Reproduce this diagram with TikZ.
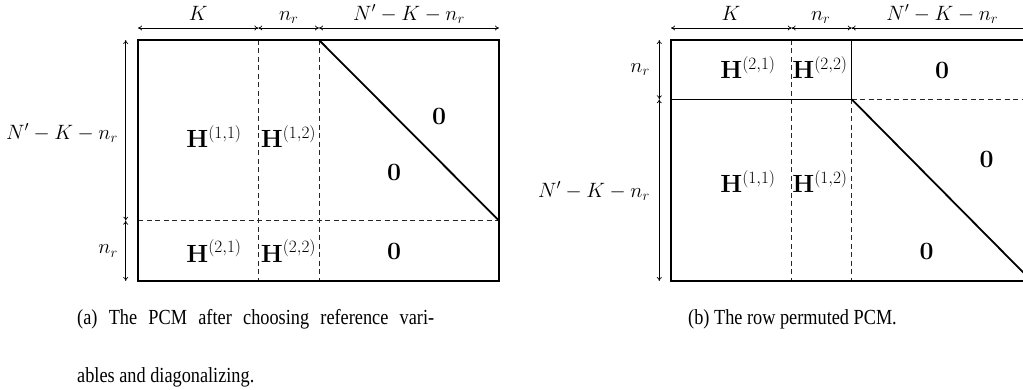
\documentclass[tikz,border=0pt]{standalone}
\usepackage[no-math]{fontspec}
\setmainfont{Liberation Serif}
\usepackage{graphicx}
\usetikzlibrary{arrows.meta}
\begin{document}
\begin{tikzpicture}[x=1pt,y=-1pt,
  frame/.style={line width=1.1pt},
  divider/.style={line width=0.8pt, dash pattern=on 5pt off 3.5pt, black!85},
  diag/.style={line width=1.8pt},
  dimarrow/.style={{To[length=4pt,width=5pt]}-{To[length=4pt,width=5pt]}, line width=0.7pt},
  dimlabel/.style={font=\fontsize{20.5}{24}\selectfont, inner sep=0pt},
  blocklabel/.style={font=\fontsize{25.5}{30}\selectfont, inner sep=0pt, anchor=base},
  captext/.style={font=\fontsize{21.5}{58}\selectfont, inner sep=0pt, anchor=base west}]
\useasboundingbox (0,0) rectangle (1023,390);

% ---------- (a) ----------
\coordinate (aTL) at (138,40);
\coordinate (aBR) at (499,281);
\coordinate (a1t) at (258.3,40);  \coordinate (a1b) at (258.3,281);
\coordinate (a2t) at (319,40);    \coordinate (a2b) at (319,281);
\coordinate (aml) at (138,220.7); \coordinate (amr) at (499,220.7);
\draw[divider] (a1t) -- (a1b);
\draw[divider] (a2t) -- (a2b);
\draw[divider] (aml) -- (amr);
\draw[frame] (aTL) rectangle (aBR);
\draw[diag] (a2t) -- (amr);

\coordinate (ad0) at (138,28);   \coordinate (ad1) at (258.3,28);
\coordinate (ad2) at (319,28);   \coordinate (ad3) at (499,28);
\draw[dimarrow] (ad0) -- (ad1);
\draw[dimarrow] (ad1) -- (ad2);
\draw[dimarrow] (ad2) -- (ad3);
\coordinate (al0) at (125.7,40); \coordinate (al1) at (125.7,220.7);
\coordinate (al2) at (125.7,281);
\draw[dimarrow] (al0) -- (al1);
\draw[dimarrow] (al1) -- (al2);

\node[dimlabel, anchor=base] (aK) at (198.2,20.5) {$K$};
\node[dimlabel, anchor=base] (anr) at (288.7,20.5) {$n_r$};
\node[dimlabel, anchor=base] (aN) at (409,20.5) {$N'-K-n_r$};
\node[dimlabel, anchor=east] (aNl) at (118,133) {$N'-K-n_r$};
\node[dimlabel, anchor=east] (anrl) at (118,251) {$n_r$};

\node[blocklabel] (aH11) at (214,148) {$\mathbf{H}^{(1,1)}$};
\node[blocklabel] (aH12) at (288.5,148) {$\mathbf{H}^{(1,2)}$};
\node[blocklabel] (aH21) at (214,262) {$\mathbf{H}^{(2,1)}$};
\node[blocklabel] (aH22) at (288.5,262) {$\mathbf{H}^{(2,2)}$};
\node[blocklabel] (aZ1) at (439,124.5) {$\mathbf{0}$};
\node[blocklabel] (aZ2) at (394,180.5) {$\mathbf{0}$};
\node[blocklabel] (aZ3) at (394,260) {$\mathbf{0}$};

% ---------- (b) ----------
\coordinate (bTL) at (671,40);
\coordinate (bBR) at (1031.7,281);
\coordinate (b1t) at (791.7,40);  \coordinate (b1b) at (791.7,281);
\coordinate (b2t) at (851.7,40);  \coordinate (b2m) at (851.7,99.3);
\coordinate (b2b) at (851.7,281);
\coordinate (bml) at (671,99.3);  \coordinate (bmr) at (1031.7,99.3);
\draw[divider] (b1t) -- (b1b);
\draw[divider] (b2m) -- (b2b);
\draw[divider] (b2m) -- (bmr);
\draw[frame] (bTL) rectangle (bBR);
\draw[frame] (bml) -- (b2m) -- (b2t);
\draw[diag] (b2m) -- (bBR);

\coordinate (bd0) at (671,28);   \coordinate (bd1) at (791.7,28);
\coordinate (bd2) at (851.7,28); \coordinate (bd3) at (1031.7,28);
\draw[dimarrow] (bd0) -- (bd1);
\draw[dimarrow] (bd1) -- (bd2);
\draw[dimarrow] (bd2) -- (bd3);
\coordinate (bl0) at (659.3,40); \coordinate (bl1) at (659.3,99.3);
\coordinate (bl2) at (659.3,281);
\draw[dimarrow] (bl0) -- (bl1);
\draw[dimarrow] (bl1) -- (bl2);

\node[dimlabel, anchor=base] (bK) at (731,20.5) {$K$};
\node[dimlabel, anchor=base] (bnr) at (820.7,20.5) {$n_r$};
\node[dimlabel, anchor=base] (bN) at (942.3,20.5) {$N'-K-n_r$};
\node[dimlabel, anchor=east] (bnrl) at (650,69.5) {$n_r$};
\node[dimlabel, anchor=east] (bNl) at (650,191) {$N'-K-n_r$};

\node[blocklabel] (bH21) at (748,78.5) {$\mathbf{H}^{(2,1)}$};
\node[blocklabel] (bH22) at (820,78.5) {$\mathbf{H}^{(2,2)}$};
\node[blocklabel] (bZ1) at (942,78.5) {$\mathbf{0}$};
\node[blocklabel] (bH11) at (748,193) {$\mathbf{H}^{(1,1)}$};
\node[blocklabel] (bH12) at (820,193) {$\mathbf{H}^{(1,2)}$};
\node[blocklabel] (bZ2) at (986.7,168) {$\mathbf{0}$};
\node[blocklabel] (bZ3) at (926.7,259) {$\mathbf{0}$};

% ---------- captions ----------
\node[captext] (capa) at (77,324) {\scalebox{0.85}[1]{\parbox[t]{420pt}{\fontsize{21.5}{58}\selectfont\noindent(a) The PCM after choosing reference vari-\linebreak ables and diagonalizing.}}};
\node[captext] (capb) at (688,324) {\scalebox{0.85}[1]{(b) The row permuted PCM.}};
\end{tikzpicture}
\end{document}
